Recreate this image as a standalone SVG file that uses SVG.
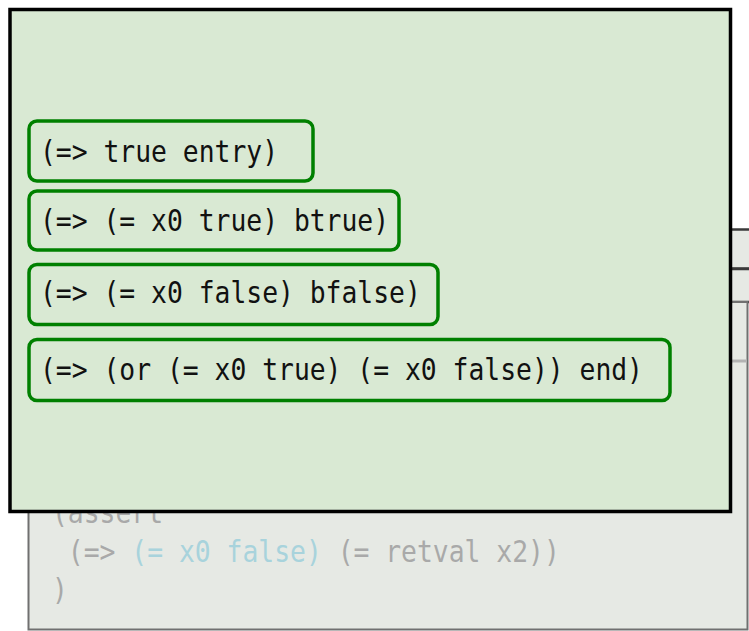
<svg xmlns="http://www.w3.org/2000/svg" width="749" height="631" viewBox="0 0 749 631">
  <style>
    .mono { font-family: "DejaVu Sans Mono", "Liberation Mono", monospace; font-size: 29.3px; white-space: pre; }
    .dark { fill: #111111; }
    .dim { fill: #a9a9a9; }
    .dimblue { fill: #a8d3dc; }
    .strip { fill: #e6e9e4; stroke: #3a3a3a; stroke-width: 2.5; }
    .panel { fill: #e6e9e4; stroke: #707070; stroke-width: 2; }
    .cond { fill: none; stroke: #008000; stroke-width: 3.5; }
  </style>

  <!-- background listing panels -->
  <g id="listing-strip-1">
    <rect class="strip" x="20" y="229.5" width="760" height="39"/>
  </g>
  <g id="listing-strip-2">
    <rect class="strip" x="20" y="269" width="760" height="33"/>
  </g>
  <g id="listing-panel">
    <rect class="panel" x="28.5" y="302" width="719" height="327.5"/>
    <line x1="29" y1="361" x2="747" y2="361" stroke="#b3b3b3" stroke-width="3"/>
    <text class="mono dim" transform="translate(52,523) scale(0.9,1)">(assert</text>
    <text class="mono dim" transform="translate(52,562) scale(0.9,1)"> (=&gt; <tspan class="dimblue">(= x0 false)</tspan> (= retval x2))</text>
    <text class="mono dim" transform="translate(52,600) scale(0.9,1)">)</text>
  </g>

  <!-- constraint panel -->
  <g id="constraint-panel">
    <rect x="10" y="9.5" width="720.5" height="502" fill="#d9e9d3" stroke="#000000" stroke-width="3.5"/>
  </g>

  <g id="cond-entry">
    <rect class="cond" x="29" y="121" width="284" height="60" rx="8"/>
    <text class="mono dark" transform="translate(40,162) scale(0.9,1)">(=&gt; true entry)</text>
  </g>
  <g id="cond-btrue">
    <rect class="cond" x="29" y="191" width="370" height="59" rx="8"/>
    <text class="mono dark" transform="translate(40,231) scale(0.9,1)">(=&gt; (= x0 true) btrue)</text>
  </g>
  <g id="cond-bfalse">
    <rect class="cond" x="29" y="264.5" width="409" height="60" rx="8"/>
    <text class="mono dark" transform="translate(40,303) scale(0.9,1)">(=&gt; (= x0 false) bfalse)</text>
  </g>
  <g id="cond-end">
    <rect class="cond" x="29" y="339.5" width="641" height="61" rx="8"/>
    <text class="mono dark" transform="translate(40,380) scale(0.9,1)">(=&gt; (or (= x0 true) (= x0 false)) end)</text>
  </g>

  <g id="connectors"/>
</svg>
